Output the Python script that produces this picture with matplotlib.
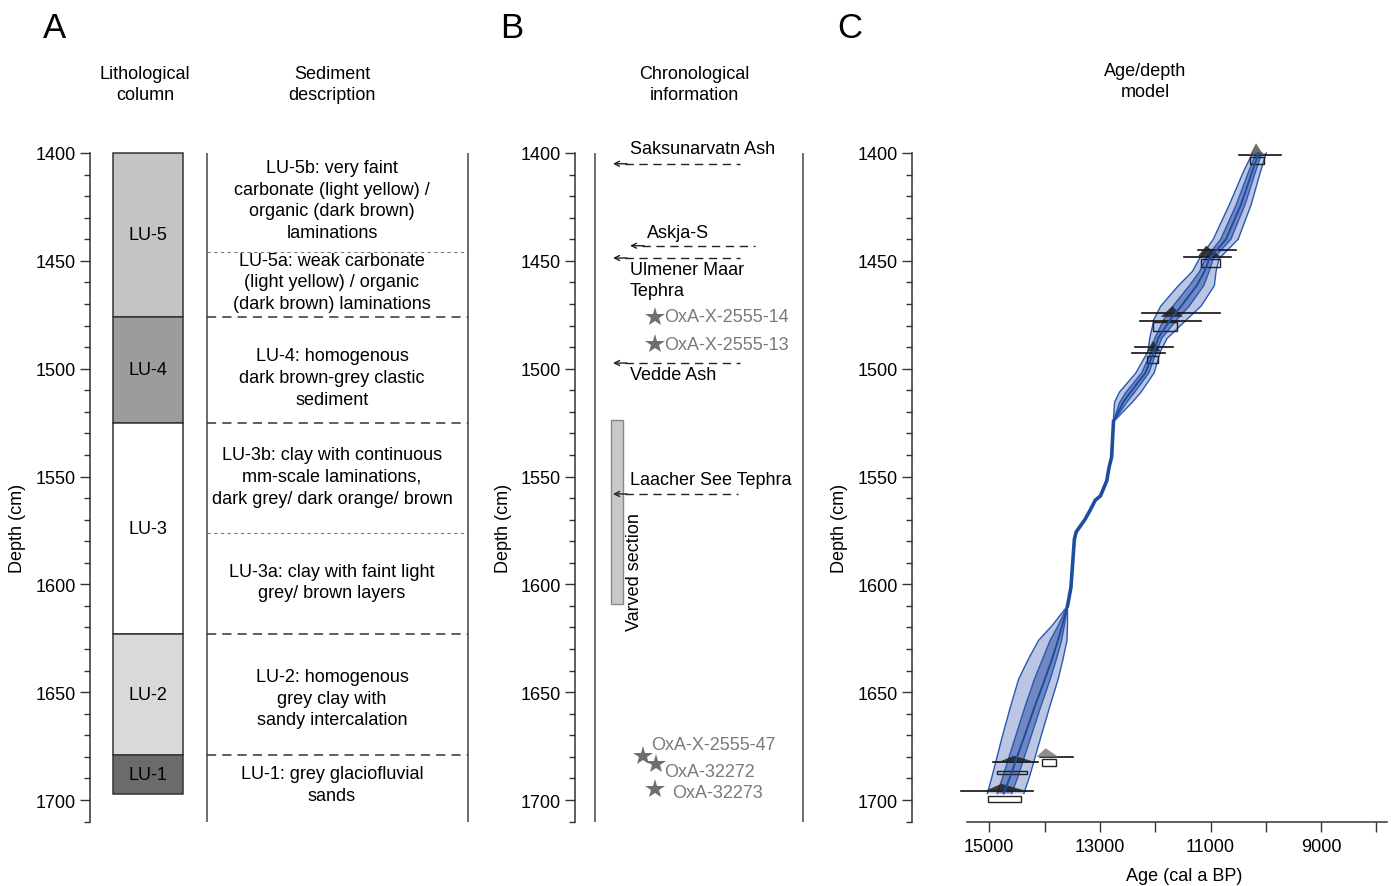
#!/usr/bin/env python3
"""
Lithology, chronology and age/depth model figure (panels A, B, C)
"""

import matplotlib
matplotlib.use("Agg")
import matplotlib.pyplot as plt
from matplotlib.patches import Rectangle
import numpy as np

plt.rcParams['font.family'] = ['Liberation Sans', 'DejaVu Sans']

W, H = 1395, 887
FS = 13
LS = 1.38

# ---- Panel A: lithological units (top, bottom depth in cm)
unit_names = ['LU-5', 'LU-4', 'LU-3', 'LU-2', 'LU-1']
unit_top = [1400, 1476, 1525, 1623, 1679]
unit_bottom = [1476, 1525, 1623, 1679, 1697]
unit_colors = ['#c4c4c4', '#9c9c9c', '#ffffff', '#d9d9d9', '#6b6b6b']

# sediment description boundaries
dotted_depths = [1446, 1576]
dashed_depths = [1476, 1525, 1623, 1679]
desc_texts = [
    "LU-5b: very faint\ncarbonate (light yellow) /\norganic (dark brown)\nlaminations",
    "LU-5a: weak carbonate\n(light yellow) / organic\n(dark brown) laminations",
    "LU-4: homogenous\ndark brown-grey clastic\nsediment",
    "LU-3b: clay with continuous\nmm-scale laminations,\ndark grey/ dark orange/ brown",
    "LU-3a: clay with faint light\ngrey/ brown layers",
    "LU-2: homogenous\ngrey clay with\nsandy intercalation",
    "LU-1: grey glaciofluvial\nsands",
]
desc_depths = [1421.8, 1459.8, 1503.9, 1549.8, 1598.9, 1652.7, 1693.0]

# ---- Panel B: chronological information
tephra_names = ['Saksunarvatn Ash', 'Askja-S', 'Ulmener Maar\nTephra', 'Vedde Ash',
                'Laacher See Tephra']
tephra_depths = [1405.0, 1443.0, 1448.7, 1497.4, 1558.1]
tephra_label_depths = [1398.1, 1437.1, 1458.9, 1502.9, 1551.6]
radiocarbon_names = ['OxA-X-2555-14', 'OxA-X-2555-13', 'OxA-X-2555-47', 'OxA-32272', 'OxA-32273']
radiocarbon_depths = [1476.0, 1488.6, 1679.6, 1683.3, 1694.9]
radiocarbon_label_depths = [1476.0, 1488.6, 1674.1, 1687.0, 1696.3]
varve_top, varve_bottom = 1524, 1609

# ---- Panel C: age/depth model (cal a BP)
top_depth = [1400, 1409, 1424, 1440, 1449, 1455, 1461.5, 1471, 1477, 1486, 1492, 1502,
             1511, 1515.6, 1524.5]
top_median = [10130, 10250, 10450, 10720, 11020, 11110, 11250, 11530, 11720, 11950, 12020,
              12180, 12450, 12580, 12754]
top_outer_old = [10240, 10410, 10660, 10950, 11200, 11330, 11580, 11900, 12020, 12100, 12130,
                 12350, 12650, 12735, 12758]
top_outer_young = [9990, 10100, 10265, 10500, 10845, 10900, 10930, 11170, 11420, 11785, 11905,
                   12020, 12260, 12415, 12750]
top_inner_old = [10175, 10315, 10535, 10815, 11092, 11198, 11382, 11678, 11840, 12010, 12064,
                 12248, 12530, 12642, 12755]
top_inner_young = [10074, 10190, 10376, 10632, 10950, 11026, 11122, 11386, 11600, 11884, 11974,
                   12116, 12374, 12514, 12752]

mid_depth = [1524.5, 1532, 1541, 1545.5, 1552, 1559, 1561, 1565.7, 1570, 1575.7, 1579, 1590,
             1601.5, 1610]
mid_median = [12754, 12770, 12788, 12832, 12876, 12990, 13084, 13178, 13272, 13429, 13461,
              13492, 13524, 13586]

bot_depth = [1610, 1619, 1626, 1635, 1644, 1657, 1671, 1680, 1689, 1697]
bot_median = [13586, 13680, 13760, 13870, 13995, 14183, 14372, 14497, 14620, 14740]
bot_outer_old = [13586, 13860, 14110, 14300, 14470, 14620, 14770, 14860, 14950, 15035]
bot_outer_young = [13586, 13586, 13595, 13670, 13755, 13910, 14070, 14170, 14270, 14375]
bot_inner_old = [13586, 13752, 13900, 14042, 14185, 14358, 14531, 14642, 14752, 14858]
bot_inner_young = [13586, 13642, 13694, 13790, 13899, 14074, 14251, 14366, 14480, 14594]

# dated horizons: depth, old end and young end of the range line
date_depth = [1401, 1445.2, 1448.1, 1474.3, 1477.9, 1490.0, 1492.9, 1680.0, 1682.5, 1696.0]
date_old = [10476, 11230, 11482, 12235, 12267, 12361, 12424, 14089, 14937, 15503]
date_young = [9722, 10539, 10634, 10822, 11168, 11670, 11827, 13492, 14120, 14215]

# calibrated distributions: base depth, old edge, young edge, peak age, height (cm)
hump_depth = [1401, 1448, 1476, 1492, 1682.5, 1680, 1696]
hump_old = [10290, 11230, 11900, 12150, 14850, 14150, 15100]
hump_young = [10040, 10820, 11500, 11900, 14150, 13750, 14300]
hump_peak = [10177, 11080, 11690, 12040, 14550, 13980, 14780]
hump_height = [5.5, 5, 5, 5, 3, 4, 3.5]
hump_colors = ['#555555', '#222222', '#222222', '#222222', '#222222', '#7a7a7a', '#222222']

# modelled ranges (brackets): old, young, top depth, bottom depth
bracket_old = [10288, 11168, 12047, 12141, 14859, 14048, 15018]
bracket_young = [10037, 10822, 11607, 11953, 14313, 13802, 14419]
bracket_top = [1402, 1449, 1478.5, 1494, 1686.5, 1681, 1698]
bracket_bot = [1405, 1453, 1482.5, 1497.4, 1688, 1684, 1701]

D_TOP, D_BOT = 1390, 1710
Y_TOP, Y_BOT = 132.4, 822.6


def px_axes(fig, x0, x1):
    return fig.add_axes([x0 / W, 1 - Y_BOT / H, (x1 - x0) / W, (Y_BOT - Y_TOP) / H])


def depth_axis(ax):
    ax.set_ylim(D_BOT, D_TOP)
    for s in ['top', 'right', 'bottom']:
        ax.spines[s].set_visible(False)
    ax.spines['left'].set_bounds(1400, 1710)
    ax.spines['left'].set_linewidth(1.1)
    ax.spines['left'].set_color('#333333')
    ax.set_yticks(np.arange(1400, 1701, 50))
    ax.set_yticks(np.arange(1400, 1711, 10), minor=True)
    ax.tick_params(axis='y', which='major', length=7, width=1, pad=3, labelsize=FS,
                   color='#333333')
    ax.tick_params(axis='y', which='minor', length=4.5, width=1, color='#333333')
    ax.set_xticks([])
    ax.patch.set_alpha(0)


fig = plt.figure(figsize=(W / 100, H / 100), dpi=100)

# ================= Panel A
axA = px_axes(fig, 90, 472)
axA.set_xlim(90, 472)
depth_axis(axA)
for name, t, b, c in zip(unit_names, unit_top, unit_bottom, unit_colors):
    axA.add_patch(Rectangle((113, t), 70, b - t, facecolor=c, edgecolor='#333333', lw=1.1))
    axA.text(148, (t + b) / 2, name, ha='center', va='center', fontsize=FS)
axA.vlines([207, 468], 1400, 1710, color='#444444', lw=1.1)
for d in dotted_depths:
    axA.plot([207, 468], [d, d], color='#777777', lw=0.8, linestyle=(0, (3, 3)))
for d in dashed_depths:
    axA.plot([207, 468], [d, d], color='#333333', lw=1.1, linestyle=(0, (6, 4)))
for txt, d in zip(desc_texts, desc_depths):
    axA.text(332, d, txt, ha='center', va='center', fontsize=FS, linespacing=LS)

# ================= Panel B
axB = px_axes(fig, 575, 815)
axB.set_xlim(575, 815)
depth_axis(axB)
axB.vlines([595, 803], 1400, 1710, color='#444444', lw=1.1)
axB.add_patch(Rectangle((611, varve_top), 12, varve_bottom - varve_top,
                        facecolor='#c8c8c8', edgecolor='#888888', lw=1))
axB.text(635, 1593.8, 'Varved section', rotation=90, ha='center', va='center', fontsize=FS)
arrow_tail = [740, 755, 740, 740, 738]
arrow_head = [613, 630, 613, 613, 613]
label_x = [630, 647, 630, 630, 630]
for name, d, ld, xt, xh, lx in zip(tephra_names, tephra_depths, tephra_label_depths,
                                   arrow_tail, arrow_head, label_x):
    axB.plot([xh + 12, xt], [d, d], color='#222222', lw=1, linestyle=(0, (6, 4)))
    axB.annotate('', xy=(xh, d), xytext=(xh + 14, d),
                 arrowprops=dict(arrowstyle='->', lw=1, color='#222222',
                                 mutation_scale=9, shrinkA=0, shrinkB=0))
    axB.text(lx, ld, name, ha='left', va='center', fontsize=FS, linespacing=LS)
star_x = [655, 655, 643, 656, 655]
rc_label_x = [664, 664, 651, 664, 672]
for name, d, ld, sx, lx in zip(radiocarbon_names, radiocarbon_depths, radiocarbon_label_depths,
                               star_x, rc_label_x):
    axB.plot(sx, d, marker='*', markersize=15, color='#6e6e6e', markeredgewidth=0)
    axB.text(lx, ld, name, ha='left', va='center', fontsize=FS, color='#7a7a7a')

# ================= Panel C
axC = px_axes(fig, 912, 1390)
px_per_year = 55.3 / 1000
axC.set_xlim(15000 + (989.3 - 912) / px_per_year, 15000 - (1390 - 989.3) / px_per_year)
depth_axis(axC)
axC.spines['bottom'].set_visible(True)
axC.spines['bottom'].set_bounds(15398, 7803)
axC.spines['bottom'].set_linewidth(1.1)
axC.spines['bottom'].set_color('#333333')
axC.set_xticks([15000, 13000, 11000, 9000])
axC.set_xticks([14000, 12000, 10000, 8000], minor=True)
axC.tick_params(axis='x', which='both', length=7, width=1, pad=5, labelsize=FS,
                color='#333333')

outer_c, inner_c, edge_c, med_c = '#aebcdf', '#6a82bf', '#2a58b0', '#1c4d9e'
for dep, oo, oy, io, iy in [(top_depth, top_outer_old, top_outer_young, top_inner_old, top_inner_young),
                            (bot_depth, bot_outer_old, bot_outer_young, bot_inner_old, bot_inner_young)]:
    axC.fill_betweenx(dep, oo, oy, facecolor=outer_c, edgecolor='none', alpha=0.85, zorder=2)
    axC.fill_betweenx(dep, io, iy, facecolor=inner_c, edgecolor='none', alpha=0.9, zorder=3)
    for arr in (oo, oy, io, iy):
        axC.plot(arr, dep, color=edge_c, lw=1, zorder=4)

# dates around the model
for d, o, y in zip(date_depth, date_old, date_young):
    axC.plot([o, y], [d, d], color='#111111', lw=1.2, zorder=5)
for d, o, y, p, h, c in zip(hump_depth, hump_old, hump_young, hump_peak, hump_height, hump_colors):
    axC.fill([o, p, y], [d, d - h, d], color=c, alpha=0.85, lw=0, zorder=5)
for o, y, t, b in zip(bracket_old, bracket_young, bracket_top, bracket_bot):
    axC.add_patch(Rectangle((y, t), o - y, b - t, fill=False, edgecolor='#222222',
                            lw=1, zorder=5))

axC.plot(top_median, top_depth, color=med_c, lw=1.4, zorder=6)
axC.plot(mid_median, mid_depth, color=med_c, lw=2.6, zorder=6)
axC.plot(bot_median, bot_depth, color=med_c, lw=1.4, zorder=6)


# ================= titles and labels
def ftext(x, y, s, **kw):
    fig.text(x / W, 1 - y / H, s, **kw)


ftext(55, 29, 'A', ha='center', va='center', fontsize=25)
ftext(512, 29, 'B', ha='center', va='center', fontsize=25)
ftext(850, 29, 'C', ha='center', va='center', fontsize=25)
ftext(145, 85, 'Lithological\ncolumn', ha='center', va='center', fontsize=FS, linespacing=LS)
ftext(332, 85, 'Sediment\ndescription', ha='center', va='center', fontsize=FS, linespacing=LS)
ftext(694, 85, 'Chronological\ninformation', ha='center', va='center', fontsize=FS, linespacing=LS)
ftext(1145, 82, 'Age/depth\nmodel', ha='center', va='center', fontsize=FS, linespacing=LS)
for x in (18, 503, 840):
    ftext(x, 528, 'Depth (cm)', ha='center', va='center', rotation=90, fontsize=FS)
ftext(1184, 877, 'Age (cal a BP)', ha='center', va='center', fontsize=FS)

fig.savefig('out.png', dpi=100)
